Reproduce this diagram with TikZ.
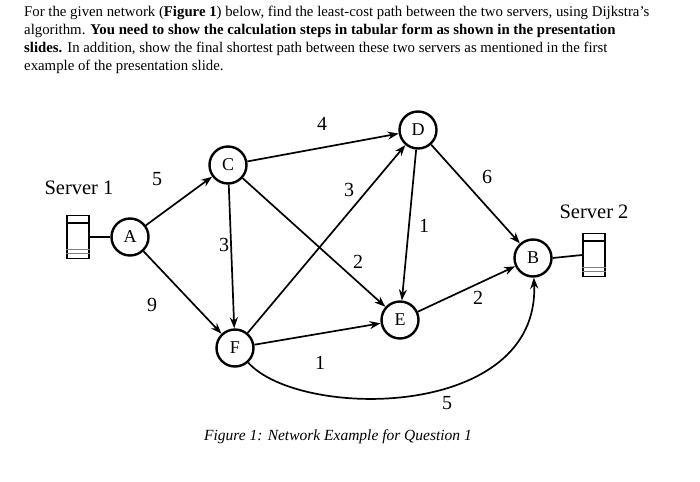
\documentclass[tikz,border=0pt]{standalone}
\usepackage{fontspec}
\setmainfont{Liberation Serif}
\usetikzlibrary{arrows.meta}
\begin{document}
\begin{tikzpicture}[x=1pt,y=-1pt,
  nd/.style={circle,draw,line width=2.4pt,minimum size=37pt,inner sep=0pt,font=\fontsize{18}{18}\selectfont},
  ed/.style={line width=1.7pt,-{Stealth[length=11pt,width=8pt]}},
  lb/.style={font=\fontsize{20}{20}\selectfont},
  srv/.style={draw,line width=1.8pt,minimum width=22pt,minimum height=43pt,inner sep=0pt}]
\useasboundingbox (0,0) rectangle (700,481);
\node[anchor=north west,inner sep=0pt,align=left,font=\fontsize{14.8}{17.8}\selectfont] (txt) at (24,6)
{For the given network (\textbf{Figure 1}) below, find the least-cost path between the two servers, using Dijkstra's\\
algorithm. \textbf{You need to show the calculation steps in tabular form as shown in the presentation}\\
\textbf{slides.} In addition, show the final shortest path between these two servers as mentioned in the first\\
example of the presentation slide.};
\node[nd] (A) at (130,237) {A};
\node[nd] (C) at (228,165) {C};
\node[nd] (D) at (418,130) {D};
\node[nd] (F) at (235,348) {F};
\node[nd] (E) at (400,320) {E};
\node[nd] (B) at (533,258) {B};
\node[srv] (S1) at (78,237) {};
\draw[line width=1.8pt] ([yshift=-8pt]S1.north west) -- ([yshift=-8pt]S1.north east);
\draw[line width=0.3pt,gray] ([yshift=10pt]S1.south west) -- ([yshift=10pt]S1.south east)
  ([yshift=6pt]S1.south west) -- ([yshift=6pt]S1.south east);
\node[srv] (S2) at (594,255) {};
\draw[line width=1.8pt] ([yshift=-8pt]S2.north west) -- ([yshift=-8pt]S2.north east);
\draw[line width=0.3pt,gray] ([yshift=10pt]S2.south west) -- ([yshift=10pt]S2.south east)
  ([yshift=6pt]S2.south west) -- ([yshift=6pt]S2.south east);
\draw[line width=1.7pt] (S1.east) -- (A.west);
\draw[line width=1.7pt] (B.east) -- (S2.west);
\node[font=\fontsize{20.5}{20.5}\selectfont] (s1l) at (79,188) {Server 1};
\node[font=\fontsize{20.5}{20.5}\selectfont] (s2l) at (594,212) {Server 2};
\draw[ed] (A) -- (C);
\draw[ed] (A) -- (F);
\draw[ed] (C) -- (D);
\draw[ed] (C) -- (F);
\draw[ed] (C) -- (E);
\draw[ed] (F) -- (D);
\draw[ed] (D) -- (E);
\draw[ed] (D) -- (B);
\draw[ed] (F) -- (E);
\draw[ed] (E) -- (B);
\draw[ed] (F) .. controls (300,420) and (540,420) .. (B);
\node[lb] (l1) at (157,179) {5};
\node[lb] (l2) at (152,305) {9};
\node[lb] (l3) at (322,124) {4};
\node[lb] (l4) at (224,245) {3};
\node[lb] (l5) at (349,190) {3};
\node[lb] (l6) at (358,262) {2};
\node[lb] (l7) at (424,226) {1};
\node[lb] (l8) at (487,177) {6};
\node[lb] (l9) at (478,298) {2};
\node[lb] (l10) at (320,363) {1};
\node[lb] (l11) at (447,403) {5};
\node[font=\fontsize{15.5}{15.5}\selectfont\itshape] (cap) at (338,437) {Figure 1: Network Example for Question 1};
\end{tikzpicture}
\end{document}
